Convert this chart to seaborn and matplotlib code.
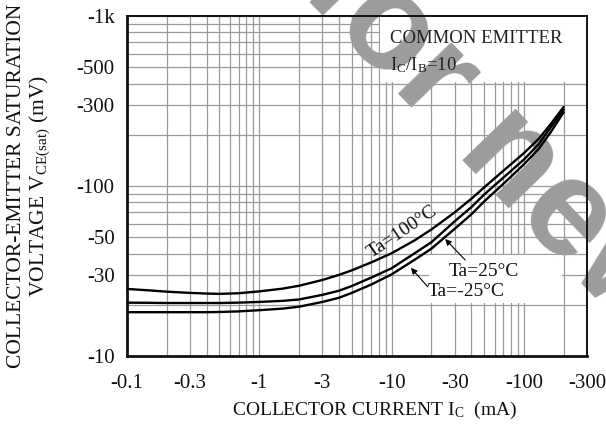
import numpy as np
import pandas as pd
import matplotlib
matplotlib.use("Agg")
import matplotlib.pyplot as plt
import seaborn as sns
from matplotlib.ticker import FixedLocator, LogLocator, NullFormatter
from matplotlib.patches import Rectangle

# ---- data ----
ic_ma = [0.1, 0.15, 0.2, 0.3, 0.4, 0.5, 0.7, 1, 1.5, 2, 3, 4, 5, 7, 10, 15, 20,
         30, 40, 50, 70, 100, 130, 160, 200]
vce_100 = [24.8, 24.3, 23.9, 23.5, 23.3, 23.2, 23.4, 24.0, 24.9, 25.9, 28.0, 30.0,
           31.9, 35.5, 40.2, 48.0, 55.5, 70, 84, 98, 123, 156, 190, 232, 292]
vce_25 = [20.6, 20.55, 20.5, 20.5, 20.5, 20.5, 20.6, 20.8, 21.1, 21.5, 22.9, 24.2,
          25.8, 28.9, 32.8, 40.3, 46.7, 62, 75, 89, 112, 143, 177, 222, 282]
vce_m25 = [18.1, 18.1, 18.1, 18.1, 18.1, 18.15, 18.3, 18.6, 19.0, 19.5, 20.8, 22.0,
           23.5, 26.3, 30.2, 36.9, 42.8, 56, 68, 81, 103, 134, 166, 208, 272]
series_names = ["Ta=100°C", "Ta=25°C", "Ta=-25°C"]

x_ticks = [0.1, 0.3, 1, 3, 10, 30, 100, 300]
x_labels = ["-0.1", "-0.3", "-1", "-3", "-10", "-30", "-100", "-300"]
y_ticks = [10, 30, 50, 100, 300, 500, 1000]
y_labels = ["-10", "-30", "-50", "-100", "-300", "-500", "-1k"]

df = pd.concat([
    pd.DataFrame({"ic": ic_ma, "v": v, "ta": name})
    for v, name in zip([vce_100, vce_25, vce_m25], series_names)
])

sns.set_theme(style="white")
plt.rcParams["font.family"] = ["Liberation Serif", "DejaVu Serif"]
plt.rcParams["mathtext.fontset"] = "custom"
plt.rcParams["mathtext.rm"] = "Liberation Serif"
plt.rcParams["mathtext.it"] = "Liberation Serif:italic"
plt.rcParams["mathtext.bf"] = "Liberation Serif:bold"

fig = plt.figure(figsize=(6.06, 4.43), dpi=100)
fig.patch.set_facecolor("white")
ax = fig.add_axes([127 / 606, 1 - 356 / 443, 460 / 606, 340 / 443])

sns.lineplot(data=df, x="ic", y="v", hue="ta", palette=["black"] * 3,
             estimator=None, sort=False, legend=False, lw=1.7, ax=ax, zorder=3)

ax.set_xscale("log")
ax.set_yscale("log")
ax.set_xlim(0.1, 300)
ax.set_ylim(10, 1000)

ax.xaxis.set_major_locator(FixedLocator(x_ticks))
ax.xaxis.set_ticklabels(x_labels)
ax.yaxis.set_major_locator(FixedLocator(y_ticks))
ax.yaxis.set_ticklabels(y_labels)
for axis in (ax.xaxis, ax.yaxis):
    axis.set_minor_locator(LogLocator(base=10, subs=np.arange(1, 10), numticks=30))
    axis.set_minor_formatter(NullFormatter())

ax.grid(True, which="both", color="#9a9a9a", lw=0.9)
ax.set_axisbelow(True)
ax.tick_params(which="both", length=0, labelsize=15, colors="#111111")
ax.tick_params(axis="x", pad=13)
ax.tick_params(axis="y", pad=9)

for side, sp in ax.spines.items():
    sp.set_color("#111111")
    sp.set_visible(True)
    sp.set_linewidth(2.0 if side in ("left", "bottom") else 1.4)

# white boxes where the grid is blanked out behind the notes
ax.add_patch(Rectangle((8.2, 408), 300 - 8.2, 1000 - 408, facecolor="white",
                       edgecolor="none", zorder=0.8))
ax.add_patch(Rectangle((19.3, 20.4), 195 - 19.3, 39.2 - 20.4, facecolor="white",
                       edgecolor="none", zorder=0.8))

# watermark
ax.text(300 / 606, 1 + 8 / 443, "for new", transform=fig.transFigure,
        ha="left", va="baseline", rotation=-46, rotation_mode="anchor",
        fontsize=100, fontweight="bold", family="Liberation Sans",
        color="#9c9c9c", zorder=0.9, clip_on=False)

# notes
ax.text(9.7, 692, "COMMON EMITTER", fontsize=13.5, ha="left", va="baseline",
        color="#222222", zorder=4)
ax.text(9.7, 481, r"$\mathrm{I_C/I_B}$=10", fontsize=13.5, ha="left", va="baseline",
        color="#222222", zorder=4)

ax.text(12.1, 53.6, "Ta=100°C", fontsize=14, rotation=34, rotation_mode="anchor",
        ha="center", va="center", color="#111111", zorder=4)
ax.text(50, 31.2, "Ta=25°C", fontsize=14, ha="center", va="center",
        color="#111111", zorder=4)
ax.text(36.7, 24.1, "Ta=-25°C", fontsize=14, ha="center", va="center",
        color="#111111", zorder=4)
arrow = dict(arrowstyle="-|>", color="black", lw=0.8, mutation_scale=9,
             shrinkA=0, shrinkB=0)
ax.annotate("", xy=(25.4, 48.8), xytext=(36, 36.7), arrowprops=arrow, zorder=4)
ax.annotate("", xy=(14, 33), xytext=(18.8, 25.5), arrowprops=arrow, zorder=4)

ax.set_xlabel(r"COLLECTOR CURRENT $\mathrm{I_C}$  (mA)", fontsize=14,
              color="#111111")
ax.xaxis.set_label_coords(0.537, -0.128)
ax.set_ylabel("COLLECTOR-EMITTER SATURATION\n" + r"VOLTAGE $\mathrm{V_{CE(sat)}}$ (mV)",
              fontsize=15.5, color="#111111", linespacing=1.05)
ax.yaxis.set_label_coords(-0.163, 0.5)

fig.savefig("out.png", dpi=100, facecolor="white")
